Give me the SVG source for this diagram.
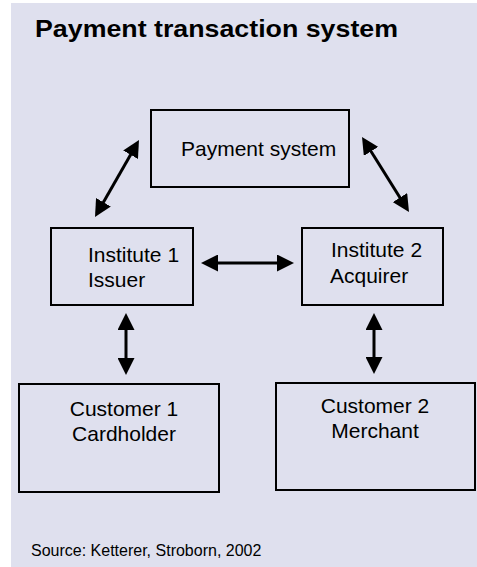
<svg xmlns="http://www.w3.org/2000/svg" width="477" height="567" viewBox="0 0 477 567">
  <style>
    .box { fill: none; stroke: #000; stroke-width: 2; }
    .lbl { font-family: "Liberation Sans", Arial, sans-serif; font-size: 21px; fill: #000; }
    .title { font-family: "Liberation Sans", Arial, sans-serif; font-size: 24px; font-weight: bold; fill: #000; }
    .src { font-family: "Liberation Sans", Arial, sans-serif; font-size: 16px; fill: #000; }
    .conn { stroke: #000; stroke-width: 3; fill: none; marker-start: url(#ah); marker-end: url(#ah); }
  </style>
  <defs>
    <marker id="ah" viewBox="0 0 17 17" refX="9" refY="8.5" markerWidth="17" markerHeight="17" markerUnits="userSpaceOnUse" orient="auto-start-reverse">
      <path d="M0,0 L17,8.5 L0,17 z" fill="#000"/>
    </marker>
  </defs>
  <rect x="0" y="0" width="477" height="567" fill="#ffffff"/>
  <rect x="11" y="3" width="466" height="564" fill="#dfe0ee"/>
  <text class="title" x="35" y="37" textLength="363" lengthAdjust="spacingAndGlyphs">Payment transaction system</text>

  <g id="payment-system">
    <rect class="box" x="151" y="110" width="198" height="77"/>
    <text class="lbl" x="181" y="156">Payment system</text>
  </g>
  <g id="institute-1">
    <rect class="box" x="51" y="228" width="142" height="77"/>
    <text class="lbl" x="88" y="262">Institute 1</text>
    <text class="lbl" x="88" y="287">Issuer</text>
  </g>
  <g id="institute-2">
    <rect class="box" x="302" y="228" width="141" height="77"/>
    <text class="lbl" x="331" y="257">Institute 2</text>
    <text class="lbl" x="330" y="283">Acquirer</text>
  </g>
  <g id="customer-1">
    <rect class="box" x="19" y="384" width="200" height="108"/>
    <text class="lbl" x="124" y="416" text-anchor="middle">Customer 1</text>
    <text class="lbl" x="124" y="441" text-anchor="middle">Cardholder</text>
  </g>
  <g id="customer-2">
    <rect class="box" x="276" y="383" width="199" height="107"/>
    <text class="lbl" x="375" y="413" text-anchor="middle">Customer 2</text>
    <text class="lbl" x="375" y="438" text-anchor="middle">Merchant</text>
  </g>

  <g id="connectors">
    <line class="conn" x1="98.97" y1="210.06" x2="135.03" y2="146.94"/>
    <line class="conn" x1="366.25" y1="143.78" x2="404.75" y2="205.22"/>
    <line class="conn" x1="209" y1="263" x2="286" y2="263"/>
    <line class="conn" x1="126" y1="321" x2="126" y2="367"/>
    <line class="conn" x1="374" y1="321" x2="374" y2="366"/>
  </g>

  <text class="src" x="31" y="556">Source: Ketterer, Stroborn, 2002</text>
</svg>
